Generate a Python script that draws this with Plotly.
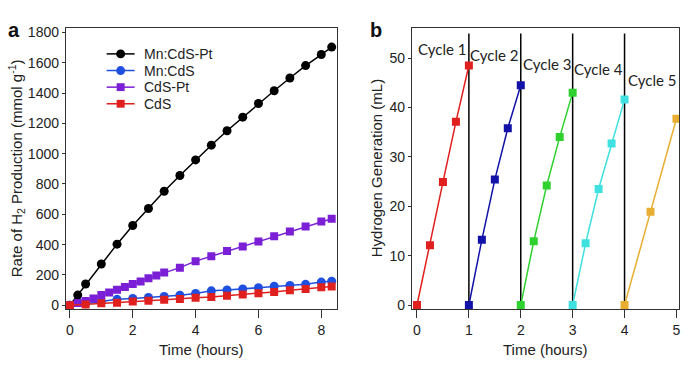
import plotly.graph_objects as go

# ---- Panel a data ----
t_black = [0, 0.25, 0.5, 1, 1.5, 2, 2.5, 3, 3.5, 4, 4.5, 5, 5.5, 6, 6.5, 7, 7.5, 8, 8.33]
mn_cds_pt = [0, 67, 140, 272, 403, 526, 638, 752, 856, 959, 1056, 1151, 1241, 1331, 1415, 1499, 1581, 1654, 1703]

t_purple = [0, 0.25, 0.5, 0.75, 1, 1.25, 1.5, 1.75, 2, 2.25, 2.5, 2.75, 3,
            3.5, 4, 4.5, 5, 5.5, 6, 6.5, 7, 7.5, 8, 8.33]
cds_pt = [0, 15, 28, 45, 67, 84, 103, 121, 140, 157, 179, 196, 216,
          248, 291, 323, 358, 388, 420, 455, 487, 520, 552, 571]

t_half = [0, 0.5, 1, 1.5, 2, 2.5, 3, 3.5, 4, 4.5, 5, 5.5, 6, 6.5, 7, 7.5, 8, 8.33]
mn_cds = [0, 10, 25, 39, 45, 52, 58, 66, 78, 95, 101, 108, 116, 125, 131, 138, 153, 159]
cds = [0, 5, 13, 17, 24, 30, 37, 41, 49, 55, 62, 71, 80, 88, 99, 108, 118, 123]

series_names = ["Mn:CdS-Pt", "Mn:CdS", "CdS-Pt", "CdS"]

# ---- Panel b data ----
cycle_names = ["Cycle 1", "Cycle 2", "Cycle 3", "Cycle 4", "Cycle 5"]
cycle_t = [
    [0, 0.25, 0.5, 0.75, 1],
    [1, 1.25, 1.5, 1.75, 2],
    [2, 2.25, 2.5, 2.75, 3],
    [3, 3.25, 3.5, 3.75, 4],
    [4, 4.5, 5],
]
cycle_h2 = [
    [0, 12.1, 24.9, 37.1, 48.5],
    [0, 13.2, 25.4, 35.8, 44.5],
    [0, 12.9, 24.2, 34.0, 43.0],
    [0, 12.5, 23.5, 32.7, 41.6],
    [0, 18.9, 37.7],
]
cycle_bounds = [1, 2, 3, 4]
bound_y = [-1, 55]

a_x_ticks = [0, 2, 4, 6, 8]
a_y_ticks = [0, 200, 400, 600, 800, 1000, 1200, 1400, 1600, 1800]
b_x_ticks = [0, 1, 2, 3, 4, 5]
b_y_ticks = [0, 10, 20, 30, 40, 50]

# ---- styles ----
W, H = 692, 367
FONT = "Liberation Sans, Arial, sans-serif"
TXT = "#222222"
cycle_colors = ["#e0201e", "#1212a8", "#2ed12e", "#3ee0e0", "#e8ae32"]
label_pos = [(0.48, 51.9), (1.49, 50.7), (2.5, 48.9), (3.49, 47.7), (4.53, 45.6)]
series_colors = ["#000000", "#1f4fe0", "#7a1fd6", "#e0201e"]
series_symbols = ["circle", "circle", "square", "square"]
series_sizes = [9, 9, 8, 8]

fig = go.Figure()

series_data = [(t_black, mn_cds_pt), (t_half, mn_cds), (t_purple, cds_pt), (t_half, cds)]
for name, (tx, ty), col, sym, sz in zip(series_names, series_data, series_colors,
                                        series_symbols, series_sizes):
    fig.add_trace(go.Scatter(
        x=tx, y=ty, name=name, mode="lines+markers",
        line=dict(color=col, width=1.5),
        marker=dict(color=col, symbol=sym, size=sz),
        xaxis="x", yaxis="y", showlegend=False))

for xb in cycle_bounds:
    fig.add_trace(go.Scatter(
        x=[xb, xb], y=bound_y, mode="lines",
        line=dict(color="#000000", width=1.5),
        xaxis="x2", yaxis="y2", showlegend=False, hoverinfo="skip"))

for name, tx, ty, col in zip(cycle_names, cycle_t, cycle_h2, cycle_colors):
    fig.add_trace(go.Scatter(
        x=tx, y=ty, name=name, mode="lines+markers",
        line=dict(color=col, width=1.5),
        marker=dict(color=col, symbol="square", size=8),
        xaxis="x2", yaxis="y2", showlegend=False))

tickfont = dict(family=FONT, size=14, color=TXT)
axis_common = dict(showline=True, mirror=True, linecolor="#333333", linewidth=1,
                   ticks="outside", tickcolor="#333333", tickwidth=1,
                   showgrid=False, zeroline=False, tickfont=tickfont)
xax = dict(ticklen=8, **axis_common)
yax = dict(ticklen=3, **axis_common)

fig.update_layout(
    width=W, height=H,
    margin=dict(l=0, r=0, t=0, b=0),
    paper_bgcolor="white", plot_bgcolor="white",
    showlegend=False,
    xaxis=dict(domain=[66 / W, 338 / W], range=[-0.13, 8.5], tickvals=a_x_ticks, anchor="y", **xax),
    yaxis=dict(domain=[1 - 312 / H, 1 - 25 / H], range=[-26, 1826], tickvals=a_y_ticks, anchor="x", **yax),
    xaxis2=dict(domain=[413 / W, 681 / W], range=[-0.1, 5.05], tickvals=b_x_ticks, anchor="y2", **xax),
    yaxis2=dict(domain=[1 - 312 / H, 1 - 25 / H], range=[-0.85, 56], tickvals=b_y_ticks, anchor="x2", **yax),
)

title_font = dict(family=FONT, size=15, color=TXT)
annotations = []
shapes = []
annotations.append(dict(text="Time (hours)", x=(66 + 338) / 2 / W, y=1 - 353 / H,
                        xref="paper", yref="paper", showarrow=False, font=title_font,
                        xanchor="center", yanchor="middle"))
annotations.append(dict(text="Time (hours)", x=(413 + 681) / 2 / W, y=1 - 353 / H,
                        xref="paper", yref="paper", showarrow=False, font=title_font,
                        xanchor="center", yanchor="middle"))
annotations.append(dict(text="Rate of H<sub>2</sub> Production (mmol g<sup>-1</sup>)",
                        x=16 / W, y=1 - 168 / H, xref="paper", yref="paper",
                        showarrow=False, font=title_font, textangle=-90,
                        xanchor="center", yanchor="middle"))
annotations.append(dict(text="Hydrogen Generation (mL)",
                        x=377 / W, y=1 - 168 / H, xref="paper", yref="paper",
                        showarrow=False, font=title_font, textangle=-90,
                        xanchor="center", yanchor="middle"))
annotations.append(dict(text="<b>a</b>", x=14 / W, y=1 - 27 / H, xref="paper", yref="paper",
                        showarrow=False, font=dict(family=FONT, size=20, color="#111111"),
                        xanchor="center", yanchor="middle"))
annotations.append(dict(text="<b>b</b>", x=377 / W, y=1 - 27 / H, xref="paper", yref="paper",
                        showarrow=False, font=dict(family=FONT, size=20, color="#111111"),
                        xanchor="center", yanchor="middle"))
for name, (lx, ly) in zip(cycle_names, label_pos):
    annotations.append(dict(text=name, x=lx, y=ly, xref="x2", yref="y2", showarrow=False,
                            font=dict(family="Lato, Open Sans, sans-serif", size=15, color=TXT),
                            xanchor="center", yanchor="middle"))

# ---- manual legend (compact row spacing, as in the reference) ----
leg_x0, leg_x1, leg_text_x, leg_top, leg_row = 107, 135, 142, 51, 17
for i, (name, col, sym, sz) in enumerate(zip(series_names, series_colors, series_symbols, series_sizes)):
    yc = leg_top + i * leg_row
    yp = 1 - yc / H
    shapes.append(dict(type="line", xref="paper", yref="paper",
                       x0=leg_x0 / W, x1=leg_x1 / W, y0=yp, y1=yp,
                       line=dict(color=col, width=1.5)))
    xc = (leg_x0 + leg_x1) / 2
    r = sz / 2
    shapes.append(dict(type="circle" if sym == "circle" else "rect", xref="paper", yref="paper",
                       x0=(xc - r) / W, x1=(xc + r) / W, y0=1 - (yc + r) / H, y1=1 - (yc - r) / H,
                       fillcolor=col, line=dict(color=col, width=0)))
    annotations.append(dict(text=name, x=leg_text_x / W, y=yp, xref="paper", yref="paper",
                            showarrow=False, font=dict(family=FONT, size=14, color=TXT),
                            xanchor="left", yanchor="middle"))

fig.update_layout(annotations=annotations, shapes=shapes)

fig.write_html("out.html", config={"displayModeBar": False},
               post_script="document.body.style.margin='0';")
